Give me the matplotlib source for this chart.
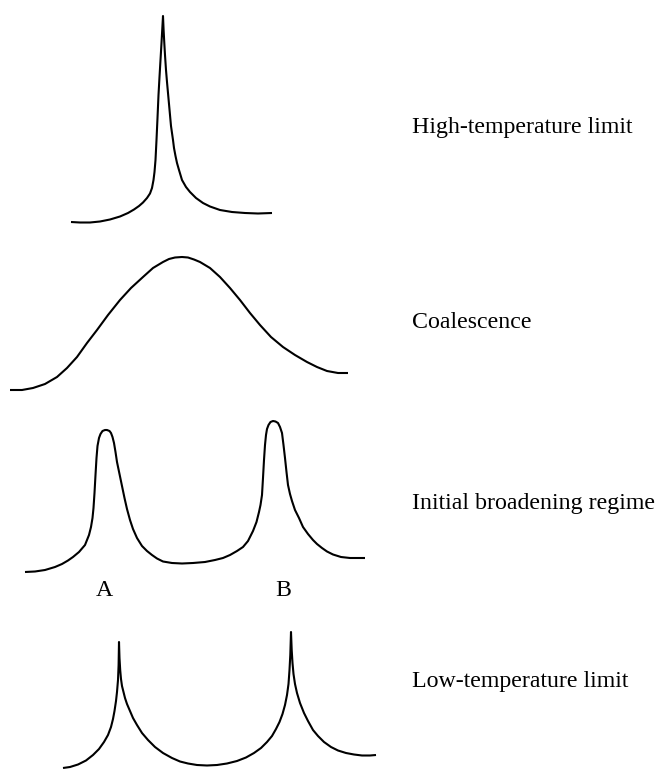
import numpy as np
import matplotlib.pyplot as plt

# traced curve points (pixel coordinates of the original drawing)
high_x = [71, 80, 90, 100, 110, 120, 128, 134, 139, 143, 147, 150, 152, 153.5, 154.5, 155.5, 156.5, 157.5,
          158.5, 159.5, 160.5, 161.5, 162.5, 163,
          163.6, 164.3, 165, 166, 167, 168, 169, 170, 171, 172, 173, 174, 175.5, 177, 179, 182, 186, 190,
          196, 203, 210, 220, 232, 245, 258, 272]
high_y = [222, 222.5, 222.5, 221.5, 219.5, 216.5, 213, 209.5, 206, 202.5, 198, 193.5, 188, 180, 172, 160, 140, 118,
          95, 77, 60, 43, 25, 16,
          30, 43, 55, 70, 82, 93, 104, 115, 126, 133, 140, 148, 156, 163, 170, 180, 187, 192,
          198, 203, 206.5, 210, 212, 213, 213.5, 213]

coal_x = [10, 22, 33, 45, 57, 67, 77, 87, 97, 108, 120, 131, 143, 153, 163, 169, 175, 182,
          188, 194, 200, 210, 220, 230, 240, 250, 260, 271, 283, 295, 307, 317, 327, 338, 348]
coal_y = [390, 390, 388, 384, 377, 368, 357, 343, 330, 315, 300, 288, 277, 268, 262, 259, 257.5, 257,
          257.5, 259.5, 262, 268, 277, 288, 300, 313, 325, 337, 347, 355, 362, 367, 371, 373, 373]

broad_x = [25, 35, 45, 55, 62, 68, 73, 79, 85, 89, 91, 92.5, 93.5, 94.5, 95.5, 96.5, 97.5, 99, 100.5, 102.5,
           105, 107, 109.5, 111, 112.5, 114, 115.5, 117, 119.5, 122, 124.5, 127, 130, 133, 137, 142, 147,
           152, 157, 163, 172, 182, 193, 205, 215, 223, 230, 237, 243, 248, 253, 256.5, 259, 260.5, 262,
           263, 264, 265, 266, 267, 268.5, 270.5, 273, 275.5, 278, 280, 282, 283.5, 285, 286.5, 288,
           290, 292, 295, 299, 303, 308, 313, 317, 322, 327, 333, 341, 350, 358, 365]
broad_y = [572, 571.5, 570, 567, 564, 560.5, 557, 552, 545, 535, 527, 518, 508, 493, 475, 458, 446, 438, 434, 431,
           430, 430, 431, 433, 437, 443, 452, 462, 474, 486, 498, 509, 520, 529, 538, 546, 551,
           555, 558.5, 561.5, 563, 563.5, 563, 562, 560, 558, 555, 551, 547, 541, 531, 522, 512, 505, 495,
           478, 460, 445, 435, 429, 425, 422, 421, 421.5, 423, 427, 433, 445, 458, 472, 485,
           494, 501, 510, 518, 527, 534, 540, 544, 548, 551.5, 554.5, 557, 558, 558, 558]

low_x = [63, 70, 78, 86, 93, 99, 104, 108, 111, 113, 114.5, 116, 117, 118, 118.6, 119,
         119.5, 120.2, 121, 122, 123.5, 125, 127, 130, 133, 137, 142, 148, 155, 163, 172, 180, 188, 197,
         207, 217, 227, 237, 246, 254, 261, 267, 272, 276, 279.5, 282.5, 285, 287, 288.5, 289.5, 290.3, 291,
         291.7, 292.5, 293.5, 295, 297, 300, 304, 308, 313, 318, 324, 331, 338, 346, 354, 362, 370, 376]
low_y = [768, 767, 764.5, 760.5, 755, 749, 742, 735, 727, 719, 711, 701, 692, 680, 665, 642,
         658, 670, 679, 686, 692, 698, 704, 711, 718, 725, 733, 740, 747, 753, 758, 761.5, 763.5, 765,
         765.5, 765, 763.5, 761, 757.5, 753, 748, 742, 736, 729, 722, 714, 705, 695, 684, 670, 655, 632,
         650, 663, 674, 684, 693, 703, 713, 721, 730, 736, 742, 747, 750.5, 753, 754.5, 755.5, 755.5, 755]

labels = ['High-temperature limit', 'Coalescence', 'Initial broadening regime', 'Low-temperature limit']
label_y = [128, 323, 503, 681]
peak_labels = ['A', 'B']
peak_x = [104, 283]

fig = plt.figure(figsize=(6.56, 7.69), dpi=100)
ax = fig.add_axes([0, 0, 1, 1])
ax.set_xlim(0, 656)
ax.set_ylim(769, 0)
ax.axis('off')

for xs, ys in [(high_x, high_y), (coal_x, coal_y), (broad_x, broad_y), (low_x, low_y)]:
    ax.plot(xs, ys, color='black', lw=1.5, solid_joinstyle='round', solid_capstyle='butt')

for lab, y in zip(labels, label_y):
    ax.text(412, y, lab, fontsize=17.2, family='Liberation Serif', ha='left', va='center')

for lab, x in zip(peak_labels, peak_x):
    ax.text(x, 590, lab, fontsize=17.2, family='Liberation Serif', ha='center', va='center')

fig.savefig('out.png', dpi=100)
